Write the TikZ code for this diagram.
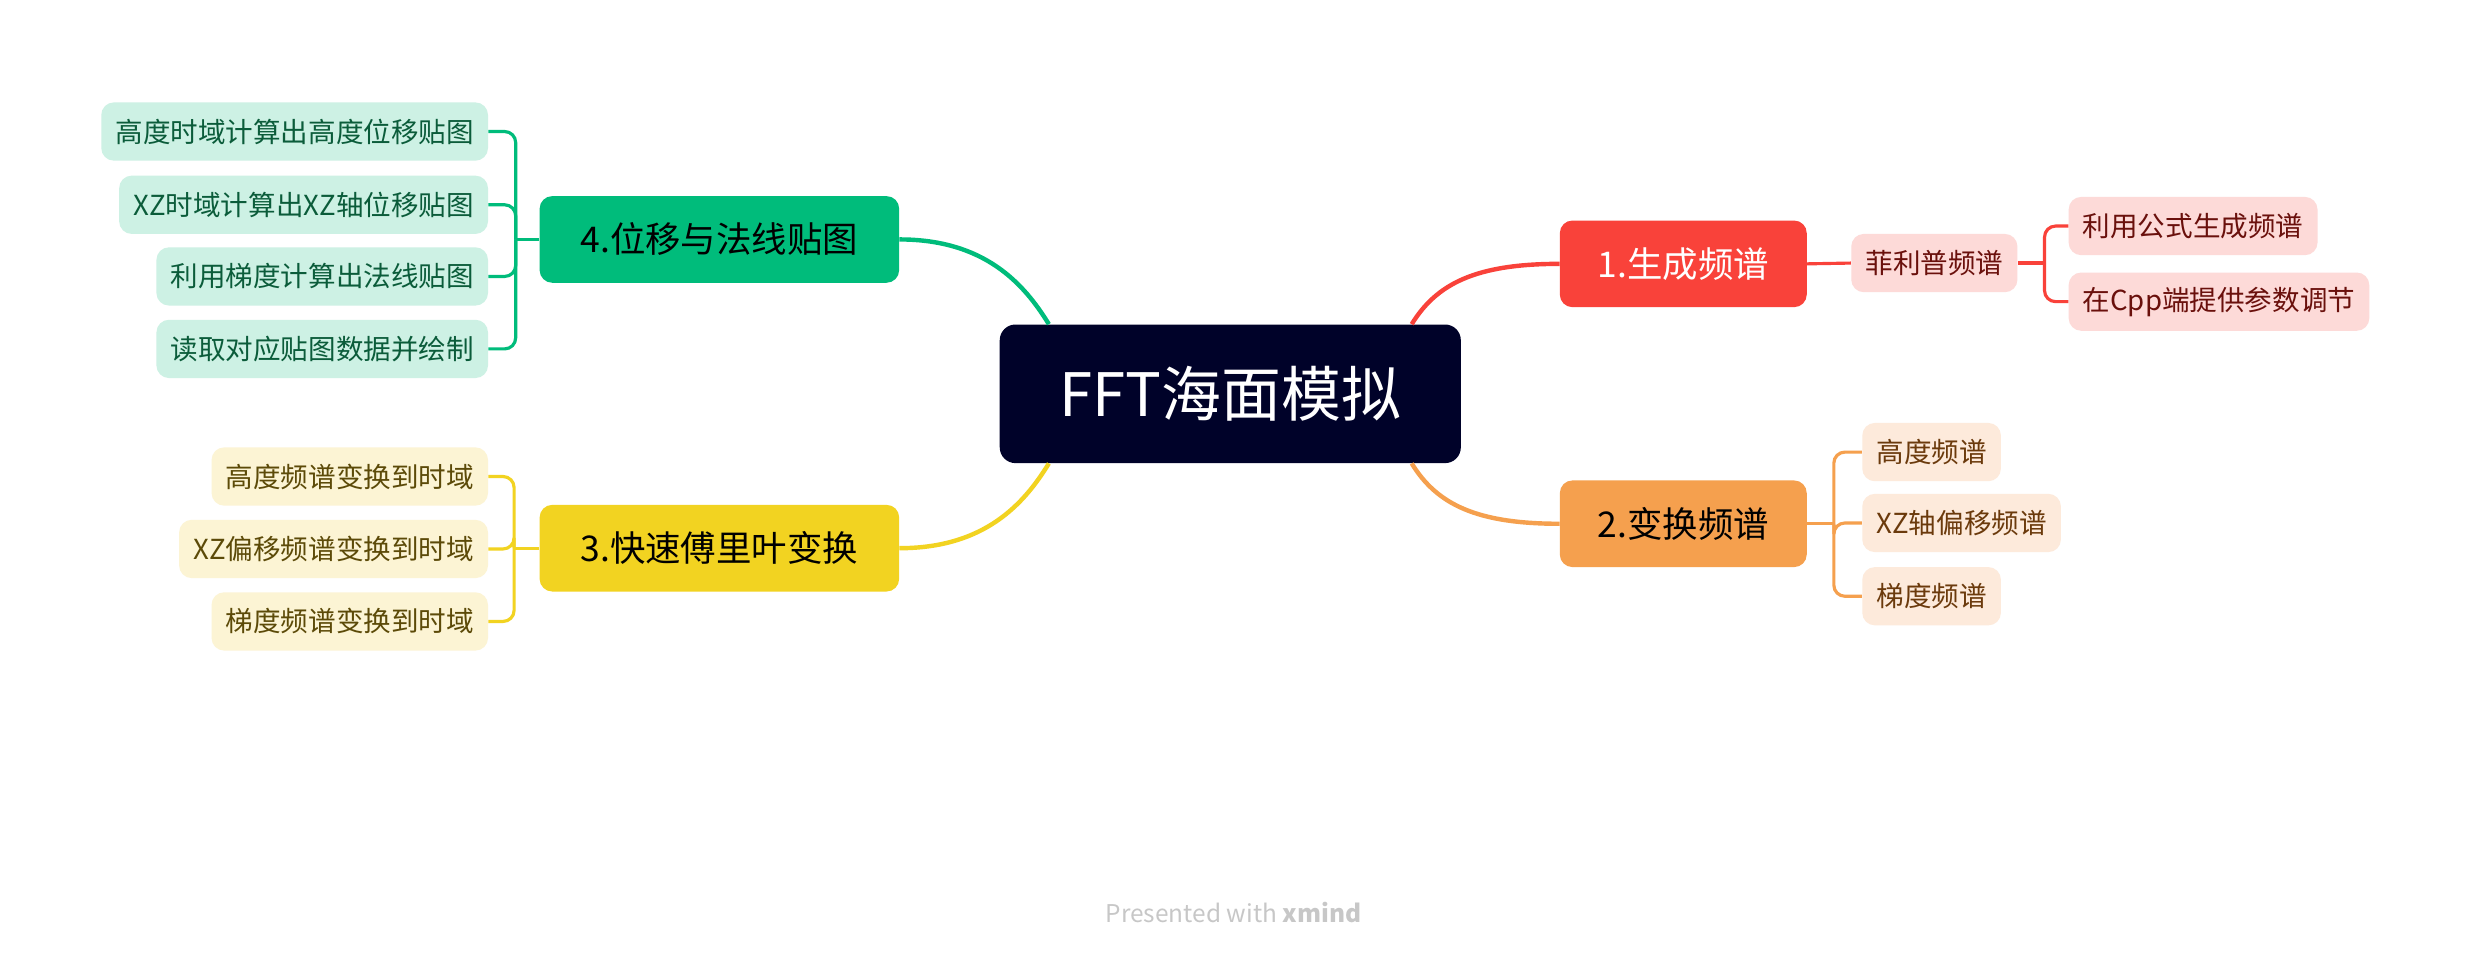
\documentclass[tikz,border=0pt]{standalone}
\usepackage{fontspec}
\usepackage{tikz}
\usetikzlibrary{positioning}
\newfontfamily\cjk{Noto Sans CJK SC}
\usepackage{xcolor}
\definecolor{navy}{HTML}{000229}
\definecolor{redtopic}{HTML}{F9423A}
\definecolor{redleaf}{HTML}{FDDAD8}
\definecolor{redtext}{HTML}{6A100C}
\definecolor{orangetopic}{HTML}{F5A04E}
\definecolor{orangeleaf}{HTML}{FDEADB}
\definecolor{orangetext}{HTML}{6B3A0C}
\definecolor{yellowtopic}{HTML}{F2D321}
\definecolor{yellowleaf}{HTML}{FCF4D4}
\definecolor{yellowtext}{HTML}{5C4A08}
\definecolor{greentopic}{HTML}{00BC7B}
\definecolor{greenleaf}{HTML}{CDF1E4}
\definecolor{greentext}{HTML}{0B5C3A}
\tikzset{%
  % Specifications for style of nodes:
           base/.style = {rectangle, rounded corners=8pt, inner ysep=0pt,
                          text centered, font=\cjk},
    centertopic/.style = {base, fill=navy, text=white, rounded corners=10pt,
                          minimum height=88pt, inner xsep=38pt,
                          font=\cjk\fontsize{38}{42}\selectfont},
      maintopic/.style = {base, minimum height=55pt, inner xsep=24pt,
                          font=\cjk\fontsize{22.5}{26}\selectfont},
       subtopic/.style = {base, minimum height=37pt, inner xsep=9pt,
                          font=\cjk\fontsize{17.5}{20}\selectfont},
  % Specifications for style of lines:
         branch/.style = {line width=2.8pt},
           twig/.style = {line width=2pt, rounded corners=7pt},
}

\begin{document}
\begin{tikzpicture}[x=1pt, y=-1pt]
  \fill[white] (0,0) rectangle (1568,612);
  \useasboundingbox (0,0) rectangle (1568,612);
  % Specification of nodes (position, etc.)
  \node (fft) [centertopic] at (781,250) {FFT海面模拟};
  \node (gen)   [maintopic, fill=redtopic, text=white, anchor=west] at (990,167.5) {1.生成频谱};
  \node (trans) [maintopic, fill=orangetopic, anchor=west] at (990,332.5) {2.变换频谱};
  \node (fast)  [maintopic, fill=yellowtopic, anchor=east, inner xsep=26pt] at (571,348) {3.快速傅里叶变换};
  \node (maps)  [maintopic, fill=greentopic, anchor=east, inner xsep=26pt] at (571,152) {4.位移与法线贴图};
  % 1.生成频谱
  \node (phil) [subtopic, fill=redleaf, text=redtext, anchor=west] at (1175,167) {菲利普频谱};
  \node (formula) [subtopic, fill=redleaf, text=redtext, anchor=west] at (1313,143.5) {利用公式生成频谱};
  \node (params)  [subtopic, fill=redleaf, text=redtext, anchor=west] at (1313,191.5) {在Cpp端提供参数调节};
  % 2.变换频谱
  \node (hspec)  [subtopic, fill=orangeleaf, text=orangetext, anchor=west] at (1182,287) {高度频谱};
  \node (xzspec) [subtopic, fill=orangeleaf, text=orangetext, anchor=west] at (1182,332) {XZ轴偏移频谱};
  \node (gspec)  [subtopic, fill=orangeleaf, text=orangetext, anchor=west] at (1182,378.5) {梯度频谱};
  % 3.快速傅里叶变换
  \node (hifft)  [subtopic, fill=yellowleaf, text=yellowtext, anchor=east] at (310,302.5) {高度频谱变换到时域};
  \node (xzifft) [subtopic, fill=yellowleaf, text=yellowtext, anchor=east] at (310,348.5) {XZ偏移频谱变换到时域};
  \node (gifft)  [subtopic, fill=yellowleaf, text=yellowtext, anchor=east] at (310,394.5) {梯度频谱变换到时域};
  % 4.位移与法线贴图
  \node (hmap)   [subtopic, fill=greenleaf, text=greentext, anchor=east] at (310,83.5) {高度时域计算出高度位移贴图};
  \node (xzmap)  [subtopic, fill=greenleaf, text=greentext, anchor=east] at (310,130) {XZ时域计算出XZ轴位移贴图};
  \node (nmap)   [subtopic, fill=greenleaf, text=greentext, anchor=east] at (310,175.5) {利用梯度计算出法线贴图};
  \node (render) [subtopic, fill=greenleaf, text=greentext, anchor=east] at (310,221.5) {读取对应贴图数据并绘制};
  \node (credit) [font=\cjk\fontsize{15.5}{18}\selectfont, text=black!22] at (783,579) {Presented with \textbf{xmind}};
  % Specification of lines between nodes specified above
  \draw[branch, redtopic]    (fft.21)  .. controls (912,180) and (937,167.5) .. (gen.west);
  \draw[branch, orangetopic] (fft.-21) .. controls (912,320) and (937,332.5) .. (trans.west);
  \draw[branch, yellowtopic] (fft.201) .. controls (650,320) and (625,348) .. (fast.east);
  \draw[branch, greentopic]  (fft.159) .. controls (650,180) and (625,152) .. (maps.east);
  \coordinate[right=17pt of phil.east] (k1);
  \coordinate[right=17pt of trans.east] (k2);
  \coordinate[left=16pt of fast.west] (k3);
  \coordinate[left=15pt of maps.west] (k4);
  \draw[twig, redtopic] (gen.east) -- (phil.west);
  \draw[twig, redtopic] (phil.east) -- (k1);
  \foreach \leaf in {formula,params}
    \draw[twig, redtopic] (k1) |- (\leaf.west);
  \draw[twig, orangetopic] (trans.east) -- (k2);
  \foreach \leaf in {hspec,xzspec,gspec}
    \draw[twig, orangetopic] (k2) |- (\leaf.west);
  \draw[twig, yellowtopic] (fast.west) -- (k3);
  \foreach \leaf in {hifft,xzifft,gifft}
    \draw[twig, yellowtopic] (k3) |- (\leaf.east);
  \draw[twig, greentopic] (maps.west) -- (k4);
  \foreach \leaf in {hmap,xzmap,nmap,render}
    \draw[twig, greentopic] (k4) |- (\leaf.east);
\end{tikzpicture}
\end{document}
